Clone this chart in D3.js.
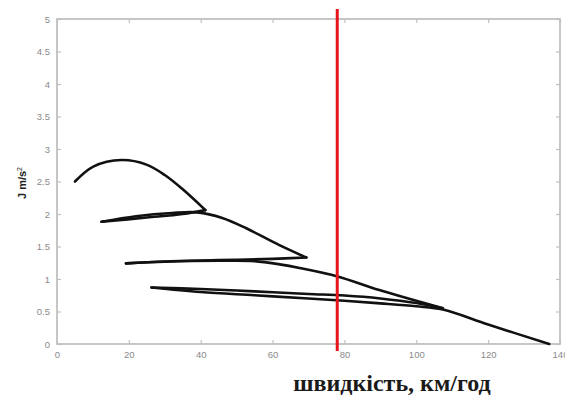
<!DOCTYPE html>
<html>
<head>
<meta charset="utf-8">
<script src="https://cdn.jsdelivr.net/npm/d3@7"></script>
<style>
  body { margin: 0; background: #fff; }
  svg { display: block; }
</style>
</head>
<body>
<svg id="chart" width="565" height="398"></svg>
<script>
// speed (km/h) vs acceleration J (m/s^2)
const gear1 = [[5.0, 2.50], [10.1, 2.73], [18, 2.83], [24.9, 2.76], [30, 2.60], [35, 2.38], [41.3, 2.06]];
const back1 = [[41.3, 2.06], [35, 2.00], [25, 1.945], [12.4, 1.88]];
const gear2 = [[12.4, 1.88], [22, 1.965], [32, 2.015], [39, 2.025], [46, 1.94], [52.7, 1.78], [61.9, 1.52], [69.4, 1.33]];
const back2 = [[69.4, 1.33], [60, 1.31], [45, 1.29], [30, 1.27], [19.2, 1.24]];
const gear3 = [[19.2, 1.24], [30, 1.265], [45, 1.28], [55, 1.275], [62, 1.225], [67.5, 1.17], [78.1, 1.04], [89.7, 0.83], [107.4, 0.55]];
const back3 = [[107.4, 0.55], [100, 0.63], [90, 0.70], [80, 0.745], [70, 0.77], [55, 0.81], [40, 0.845], [26.3, 0.87]];
const gear4 = [[26.3, 0.87], [40, 0.80], [55, 0.75], [70, 0.70], [80, 0.665], [90, 0.625], [100, 0.58], [107.4, 0.53], [120, 0.30], [137, 0.0]];
const segments = [gear1, back1, gear2, back2, gear3, back3, gear4];

const markerSpeed = 78;
const xTicks = [0, 20, 40, 60, 80, 100, 120, 140];
const yTicks = [0, 0.5, 1, 1.5, 2, 2.5, 3, 3.5, 4, 4.5, 5];

const svg = d3.select('#chart');
const plotLeft = 57, plotRight = 560, plotTop = 19, plotBottom = 344;

const x = d3.scaleLinear().domain([0, 140]).range([plotLeft, plotRight]);
const y = d3.scaleLinear().domain([0, 5]).range([plotBottom, plotTop]);

const frameColor = '#c0c0c0';
const labelColor = '#8a8a8a';

// frame
svg.append('rect')
  .attr('x', plotLeft).attr('y', plotTop)
  .attr('width', plotRight - plotLeft).attr('height', plotBottom - plotTop)
  .attr('fill', 'none')
  .attr('stroke', frameColor)
  .attr('stroke-width', 1.8);

// axes with inward ticks on all four sides
const styleAxis = g => {
  g.select('.domain').remove();
  g.selectAll('.tick line').attr('stroke', frameColor).attr('stroke-width', 1.2);
  g.selectAll('.tick text')
    .attr('fill', labelColor)
    .style('font-family', 'Arial, "Liberation Sans", sans-serif')
    .style('font-size', '9.5px');
};

svg.append('g')
  .attr('transform', `translate(0,${plotBottom})`)
  .call(d3.axisBottom(x).tickValues(xTicks).tickFormat(d3.format('d')).tickSizeInner(-4).tickPadding(7))
  .call(styleAxis);

svg.append('g')
  .attr('transform', `translate(0,${plotTop})`)
  .call(d3.axisTop(x).tickValues(xTicks).tickSizeInner(-4).tickFormat(''))
  .call(styleAxis);

svg.append('g')
  .attr('transform', `translate(${plotLeft},0)`)
  .call(d3.axisLeft(y).tickValues(yTicks).tickFormat(d => String(d)).tickSizeInner(-4).tickPadding(7))
  .call(styleAxis);

svg.append('g')
  .attr('transform', `translate(${plotRight},0)`)
  .call(d3.axisRight(y).tickValues(yTicks).tickSizeInner(-4).tickFormat(''))
  .call(styleAxis);

// curves
const line = d3.line()
  .x(d => x(d[0]))
  .y(d => y(d[1]))
  .curve(d3.curveCatmullRom.alpha(0.5));

svg.append('g')
  .selectAll('path')
  .data(segments)
  .join('path')
  .attr('d', line)
  .attr('fill', 'none')
  .attr('stroke', '#111')
  .attr('stroke-width', 2.6)
  .attr('stroke-linejoin', 'round')
  .attr('stroke-linecap', 'round');

// red marker line
svg.append('line')
  .attr('x1', x(markerSpeed)).attr('x2', x(markerSpeed))
  .attr('y1', 9).attr('y2', 351)
  .attr('stroke', '#e8141b')
  .attr('stroke-width', 3);

// axis labels
svg.append('text')
  .attr('transform', 'translate(26,183) rotate(-90)')
  .attr('text-anchor', 'middle')
  .style('font-family', 'Arial, "Liberation Sans", sans-serif')
  .style('font-size', '11px')
  .style('font-weight', 'bold')
  .attr('fill', '#222')
  .text('J m/s')
  .append('tspan')
  .attr('dy', -4)
  .style('font-size', '7px')
  .style('font-weight', 'normal')
  .text('2');

svg.append('text')
  .attr('x', 392).attr('y', 391)
  .attr('text-anchor', 'middle')
  .style('font-family', '"Liberation Serif", "Times New Roman", serif')
  .style('font-size', '24px')
  .style('font-weight', 'bold')
  .attr('fill', '#1a1a1a')
  .text('швидкість, км/год');
</script>
</body>
</html>
